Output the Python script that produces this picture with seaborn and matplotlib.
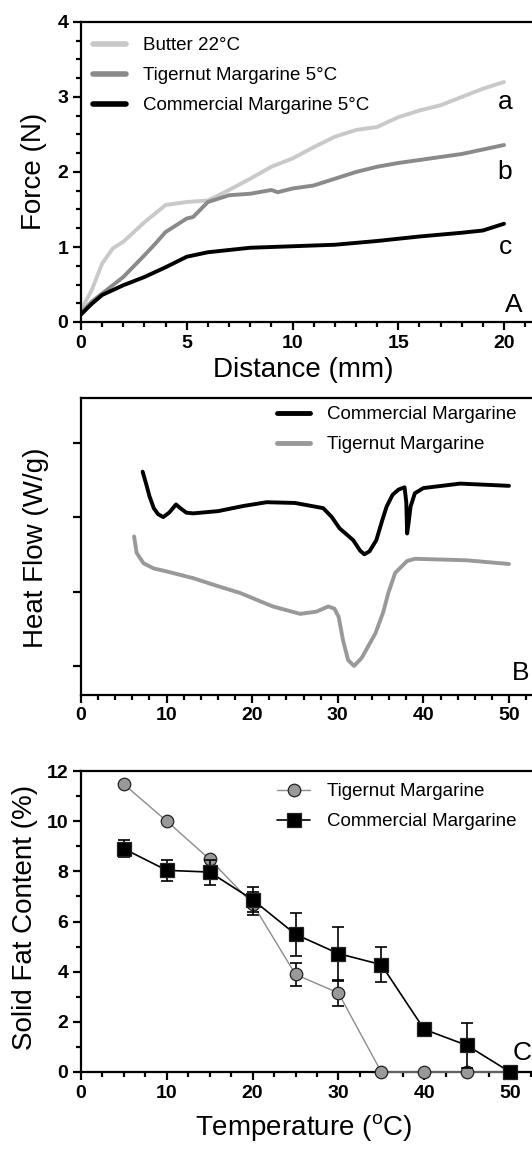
import numpy as np
import pandas as pd
import matplotlib
matplotlib.use('Agg')
import matplotlib.pyplot as plt
import seaborn as sns
from matplotlib.ticker import MultipleLocator

# ---- panel A: texture analysis (force vs distance)
dist_butter = [0, 0.5, 1, 1.5, 2, 3, 4, 5, 6, 7, 8, 9, 10, 11, 12, 13, 14, 15, 16, 17, 18, 19, 20]
force_butter = [0.16, 0.42, 0.78, 0.98, 1.07, 1.33, 1.56, 1.60, 1.62, 1.76, 1.91, 2.07, 2.18, 2.33,
                2.47, 2.56, 2.60, 2.73, 2.82, 2.89, 3.00, 3.11, 3.20]
dist_tiger = [0, 0.5, 1, 2, 3, 3.5, 4, 5, 5.3, 6, 7, 8, 9, 9.3, 10, 11, 12, 13, 14, 15, 16, 17, 18, 19, 20]
force_tiger = [0.12, 0.27, 0.38, 0.60, 0.89, 1.04, 1.20, 1.38, 1.40, 1.60, 1.69, 1.71, 1.76, 1.73,
               1.78, 1.82, 1.91, 2.00, 2.07, 2.12, 2.16, 2.20, 2.24, 2.30, 2.36]
dist_comm = [0, 0.5, 1, 2, 3, 4, 5, 6, 7, 8, 10, 12, 14, 16, 18, 19, 20]
force_comm = [0.10, 0.24, 0.36, 0.49, 0.60, 0.73, 0.87, 0.93, 0.96, 0.99, 1.01, 1.03, 1.08, 1.14,
              1.19, 1.22, 1.31]

# ---- panel B: DSC heat flow (arbitrary units)
dsc_comm_t = [7.2, 7.6, 8.0, 8.5, 9.0, 9.6, 10.3, 11.1, 11.6, 12.3, 13.1, 16.0, 19.0, 21.7, 25.0,
              28.3, 29.3, 30.2, 31.8, 32.6, 33.1, 33.7, 34.5, 35.2, 35.7, 36.4, 37.1, 37.8, 38.0,
              38.1, 38.3, 38.5, 39.0, 40.0, 44.3, 50.0]
dsc_comm_hf = [3.61, 3.45, 3.28, 3.12, 3.04, 3.00, 3.06, 3.17, 3.12, 3.06, 3.05, 3.08, 3.15, 3.20,
               3.19, 3.12, 3.00, 2.85, 2.69, 2.55, 2.50, 2.54, 2.69, 2.96, 3.14, 3.30, 3.37, 3.40,
               3.20, 2.78, 2.95, 3.14, 3.32, 3.39, 3.45, 3.42]
dsc_tiger_t = [6.2, 6.5, 7.3, 8.5, 10.0, 13.1, 15.5, 18.6, 22.4, 25.6, 27.5, 28.9, 29.6, 30.1, 30.6,
               31.2, 31.9, 32.8, 34.4, 35.3, 35.9, 36.7, 38.1, 39.0, 45.0, 50.0]
dsc_tiger_hf = [2.74, 2.52, 2.38, 2.31, 2.27, 2.18, 2.09, 1.98, 1.80, 1.70, 1.73, 1.80, 1.77, 1.66,
                1.35, 1.08, 1.00, 1.11, 1.44, 1.72, 1.98, 2.25, 2.41, 2.44, 2.42, 2.37]

# ---- panel C: solid fat content
temps = [5, 10, 15, 20, 25, 30, 35, 40, 45, 50]
sfc_tiger = [11.47, 10.0, 8.48, 6.71, 3.89, 3.15, 0, 0, 0, 0]
sfc_tiger_sd = [0, 0, 0, 0.45, 0.47, 0.5, 0, 0, 0, 0]
sfc_comm = [8.9, 8.04, 7.97, 6.87, 5.49, 4.72, 4.28, 1.70, 1.06, 0]
sfc_comm_sd = [0.33, 0.43, 0.5, 0.5, 0.86, 1.08, 0.71, 0.1, 0.9, 0]

sns.set_style('ticks')
plt.rcParams['font.family'] = ['Liberation Sans', 'DejaVu Sans']
plt.rcParams['mathtext.fontset'] = 'custom'
plt.rcParams['mathtext.rm'] = 'Liberation Sans'
for k in ['text.color', 'axes.labelcolor', 'xtick.color', 'ytick.color', 'axes.edgecolor']:
    plt.rcParams[k] = 'black'

W, H = 532, 1152
fig = plt.figure(figsize=(W / 100, H / 100), dpi=100)

LEG = dict(loc='upper left', frameon=False, fontsize=13.5, handlelength=1.76, handletextpad=0.9,
           labelspacing=0.68, borderpad=0, borderaxespad=0)


def frame(ax):
    for s in ['left', 'bottom', 'top']:
        ax.spines[s].set_linewidth(1.6)
        ax.spines[s].set_color('black')
    ax.spines['right'].set_visible(False)
    ax.tick_params(which='major', direction='out', length=6, width=1.6, labelsize=14, pad=3,
                   colors='black')
    ax.tick_params(which='minor', direction='out', length=3.8, width=1.6, colors='black')
    ax.tick_params(top=False, right=False, which='both')
    for lab in ax.get_xticklabels() + ax.get_yticklabels():
        lab.set_fontweight('bold')
    ax.set_facecolor('white')


def labels(ax, xl, xc, yl, yc):
    if xl:
        ax.set_xlabel(xl, fontsize=20, va='center', color='black')
        ax.xaxis.set_label_coords(*xc)
    else:
        ax.set_xlabel('')
    ax.set_ylabel(yl, fontsize=20, va='center', color='black')
    ax.yaxis.set_label_coords(*yc)


def axes_at(left, top, bottom):
    return fig.add_axes([left / W, 1 - bottom / H, (W - left) / W, (bottom - top) / H])


# ================= A
axA = axes_at(81, 22, 322)
dfA = pd.concat([
    pd.DataFrame({'x': dist_butter, 'y': force_butter, 's': 'Butter 22°C'}),
    pd.DataFrame({'x': dist_tiger, 'y': force_tiger, 's': 'Tigernut Margarine 5°C'}),
    pd.DataFrame({'x': dist_comm, 'y': force_comm, 's': 'Commercial Margarine 5°C'}),
])
sns.lineplot(data=dfA, x='x', y='y', hue='s', sort=False, estimator=None, ax=axA,
             palette=['#c9c9c9', '#8a8a8a', '#000000'], linewidth=2.8)
axA.set_xlim(0, (W - 81) / 21.15)
axA.set_ylim(0, 4)
axA.xaxis.set_major_locator(MultipleLocator(5))
axA.xaxis.set_minor_locator(MultipleLocator(1))
axA.yaxis.set_major_locator(MultipleLocator(1))
axA.yaxis.set_minor_locator(MultipleLocator(0.25))
frame(axA)
labels(axA, 'Distance (mm)', (0.492, -0.16), 'Force (N)', (-0.104, 0.503))
legA = axA.legend(bbox_to_anchor=(0.027, 0.949), **LEG)
for ln in legA.get_lines():
    ln.set_linewidth(4)
for t, lab in zip([2.93, 2.0, 1.0], ['a', 'b', 'c']):
    axA.text(20.05, t, lab, fontsize=19, ha='center', va='center')
axA.text(20.45, 0.23, 'A', fontsize=19, ha='center', va='center')

# ================= B
axB = axes_at(81, 398, 695)
dfB = pd.concat([
    pd.DataFrame({'x': dsc_comm_t, 'y': dsc_comm_hf, 's': 'Commercial Margarine'}),
    pd.DataFrame({'x': dsc_tiger_t, 'y': dsc_tiger_hf, 's': 'Tigernut Margarine'}),
])
sns.lineplot(data=dfB, x='x', y='y', hue='s', sort=False, estimator=None, ax=axB,
             palette=['#000000', '#999999'], linewidth=2.8)
axB.set_xlim(0, (W - 81) / 8.56)
axB.set_ylim(0.61, 4.6)
axB.xaxis.set_major_locator(MultipleLocator(10))
axB.xaxis.set_minor_locator(MultipleLocator(2))
axB.set_yticks([1, 2, 3, 4])
axB.set_yticklabels([])
frame(axB)
labels(axB, '', None, 'Heat Flow (W/g)', (-0.1, 0.495))
legB = axB.legend(bbox_to_anchor=(0.435, 0.972), **LEG)
for ln in legB.get_lines():
    ln.set_linewidth(3.5)
axB.text(51.4, 0.906, 'B', fontsize=19, ha='center', va='center')

# ================= C
axC = axes_at(81, 771, 1072)
dfC = pd.concat([
    pd.DataFrame({'x': temps, 'y': sfc_tiger, 'sd': sfc_tiger_sd, 's': 'Tigernut Margarine'}),
    pd.DataFrame({'x': temps, 'y': sfc_comm, 'sd': sfc_comm_sd, 's': 'Commercial Margarine'}),
])
for name, mk, fc, lc, lw, ms, z in [('Tigernut Margarine', 'o', '#999999', '#8c8c8c', 1.0, 9, 3),
                                     ('Commercial Margarine', 's', '#000000', '#000000', 1.2, 9.5, 4)]:
    d = dfC[dfC['s'] == name]
    axC.errorbar(d['x'], d['y'], yerr=d['sd'], fmt='none', ecolor='black', elinewidth=1.2,
                 capsize=4.3, capthick=1.2, zorder=z, clip_on=False)
    sns.lineplot(data=d, x='x', y='y', ax=axC, color=lc, linewidth=lw, marker=mk,
                 markersize=ms, markerfacecolor=fc, markeredgecolor='#222222',
                 markeredgewidth=0.9, label=name, zorder=z + 1, clip_on=False)
axC.set_xlim(0, (W - 81) / 8.58)
axC.set_ylim(0, 12)
axC.xaxis.set_major_locator(MultipleLocator(10))
axC.xaxis.set_minor_locator(MultipleLocator(2.5))
axC.yaxis.set_major_locator(MultipleLocator(2))
axC.yaxis.set_minor_locator(MultipleLocator(1))
frame(axC)
labels(axC, 'Temperature ($\\mathregular{^{o}}$C)', (0.494, -0.186),
       'Solid Fat Content (%)', (-0.125, 0.515))
axC.legend(bbox_to_anchor=(0.435, 0.959), **LEG)
axC.text(51.4, 0.76, 'C', fontsize=19, ha='center', va='center')

fig.savefig('out.png', dpi=100, facecolor='white')
